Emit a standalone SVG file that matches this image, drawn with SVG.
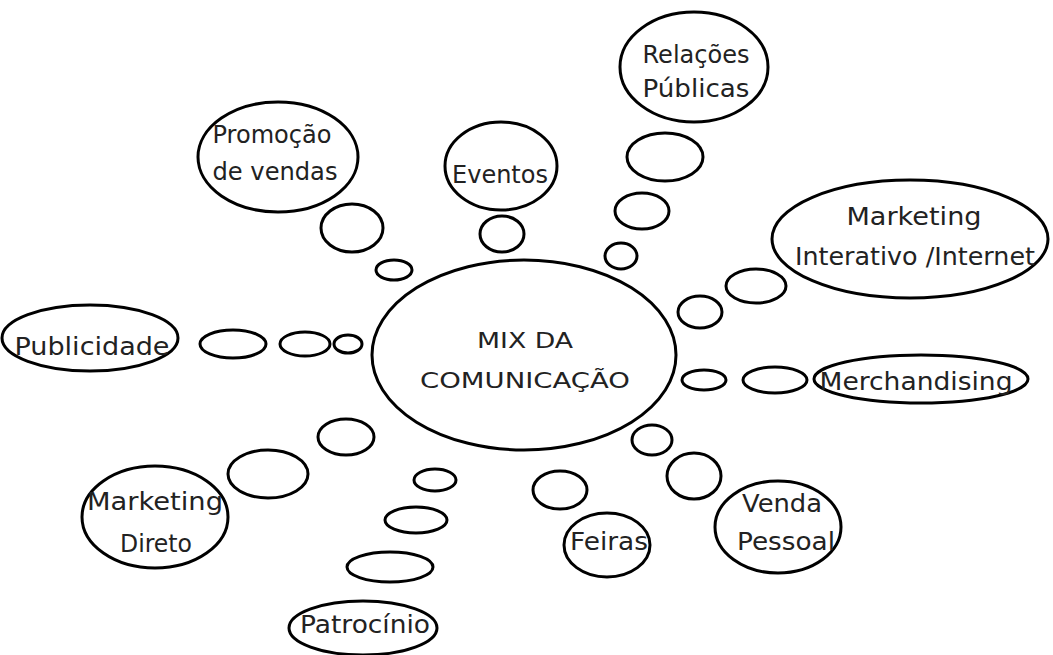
<svg xmlns="http://www.w3.org/2000/svg" width="1053" height="655" viewBox="0 0 1053 655">
  <style>
    .node { fill: #ffffff; stroke: #000000; stroke-width: 3; }
    .bubble { fill: #ffffff; stroke: #000000; stroke-width: 3; }
    .label { font-family: "DejaVu Sans", "Open Sans", sans-serif; font-size: 24px; fill: #222222; text-anchor: middle; }
    .center { font-size: 21px; }
  </style>
  <rect x="0" y="0" width="1053" height="655" fill="#ffffff"/>

  <!-- thought-bubble trails linking the centre to each channel -->
  <g id="connectors">
    <!-- Relações Públicas -->
    <ellipse class="bubble" cx="621" cy="256" rx="16" ry="13"/>
    <ellipse class="bubble" cx="642" cy="211" rx="27" ry="18"/>
    <ellipse class="bubble" cx="665" cy="157" rx="38" ry="24"/>
    <!-- Eventos -->
    <ellipse class="bubble" cx="502" cy="234" rx="22" ry="18"/>
    <!-- Promoção de vendas -->
    <ellipse class="bubble" cx="394" cy="270" rx="18" ry="10"/>
    <ellipse class="bubble" cx="352" cy="228" rx="31" ry="24"/>
    <!-- Publicidade -->
    <ellipse class="bubble" cx="348" cy="344" rx="14" ry="9"/>
    <ellipse class="bubble" cx="305" cy="344" rx="25" ry="12"/>
    <ellipse class="bubble" cx="233" cy="344" rx="33" ry="14"/>
    <!-- Marketing Interativo -->
    <ellipse class="bubble" cx="700" cy="312" rx="22" ry="16"/>
    <ellipse class="bubble" cx="756" cy="286" rx="30" ry="17"/>
    <!-- Merchandising -->
    <ellipse class="bubble" cx="704" cy="380" rx="22" ry="10"/>
    <ellipse class="bubble" cx="775" cy="380" rx="32" ry="13"/>
    <!-- Venda Pessoal -->
    <ellipse class="bubble" cx="652" cy="440" rx="20" ry="15"/>
    <ellipse class="bubble" cx="694" cy="476" rx="27" ry="23"/>
    <!-- Feiras -->
    <ellipse class="bubble" cx="560" cy="490" rx="27" ry="19"/>
    <!-- Patrocínio -->
    <ellipse class="bubble" cx="435" cy="480" rx="21" ry="11"/>
    <ellipse class="bubble" cx="416" cy="520" rx="31" ry="13"/>
    <ellipse class="bubble" cx="390" cy="567" rx="43" ry="15"/>
    <!-- Marketing Direto -->
    <ellipse class="bubble" cx="346" cy="437" rx="28" ry="18"/>
    <ellipse class="bubble" cx="268" cy="474" rx="40" ry="24"/>
  </g>

  <g id="mix">
    <ellipse class="node" cx="524" cy="355" rx="152" ry="95"/>
    <text class="label center" x="525" y="348" textLength="96" lengthAdjust="spacingAndGlyphs">MIX DA</text>
    <text class="label center" x="525" y="388" textLength="210" lengthAdjust="spacingAndGlyphs">COMUNICAÇÃO</text>
  </g>

  <g id="relacoes-publicas">
    <ellipse class="node" cx="694" cy="67" rx="74" ry="55"/>
    <text class="label" x="696" y="63" textLength="107" lengthAdjust="spacingAndGlyphs">Relações</text>
    <text class="label" x="696" y="97" textLength="107" lengthAdjust="spacingAndGlyphs">Públicas</text>
  </g>

  <g id="eventos">
    <ellipse class="node" cx="501" cy="166" rx="56" ry="44"/>
    <text class="label" x="500" y="183" textLength="96" lengthAdjust="spacingAndGlyphs">Eventos</text>
  </g>

  <g id="promocao-vendas">
    <ellipse class="node" cx="278" cy="157" rx="80" ry="55"/>
    <text class="label" x="272" y="143" textLength="119" lengthAdjust="spacingAndGlyphs">Promoção</text>
    <text class="label" x="275" y="180" textLength="125" lengthAdjust="spacingAndGlyphs">de vendas</text>
  </g>

  <g id="publicidade">
    <ellipse class="node" cx="90" cy="338" rx="88" ry="33"/>
    <text class="label" x="92" y="355" textLength="155" lengthAdjust="spacingAndGlyphs">Publicidade</text>
  </g>

  <g id="marketing-interativo">
    <ellipse class="node" cx="910" cy="239" rx="138" ry="59"/>
    <text class="label" x="914" y="225" textLength="135" lengthAdjust="spacingAndGlyphs">Marketing</text>
    <text class="label" x="915" y="265" textLength="240" lengthAdjust="spacingAndGlyphs">Interativo /Internet</text>
  </g>

  <g id="merchandising">
    <ellipse class="node" cx="921" cy="379" rx="107" ry="24"/>
    <text class="label" x="916" y="390" textLength="193" lengthAdjust="spacingAndGlyphs">Merchandising</text>
  </g>

  <g id="venda-pessoal">
    <ellipse class="node" cx="778" cy="527" rx="63" ry="46"/>
    <text class="label" x="782" y="512" textLength="80" lengthAdjust="spacingAndGlyphs">Venda</text>
    <text class="label" x="786" y="550" textLength="98" lengthAdjust="spacingAndGlyphs">Pessoal</text>
  </g>

  <g id="feiras">
    <ellipse class="node" cx="607" cy="545" rx="43" ry="32"/>
    <text class="label" x="609" y="550" textLength="78" lengthAdjust="spacingAndGlyphs">Feiras</text>
  </g>

  <g id="patrocinio">
    <ellipse class="node" cx="363" cy="628" rx="74" ry="27"/>
    <text class="label" x="365" y="633" textLength="130" lengthAdjust="spacingAndGlyphs">Patrocínio</text>
  </g>

  <g id="marketing-direto">
    <ellipse class="node" cx="155" cy="517" rx="73" ry="51"/>
    <text class="label" x="155" y="510" textLength="136" lengthAdjust="spacingAndGlyphs">Marketing</text>
    <text class="label" x="156" y="552" textLength="72" lengthAdjust="spacingAndGlyphs">Direto</text>
  </g>
</svg>
